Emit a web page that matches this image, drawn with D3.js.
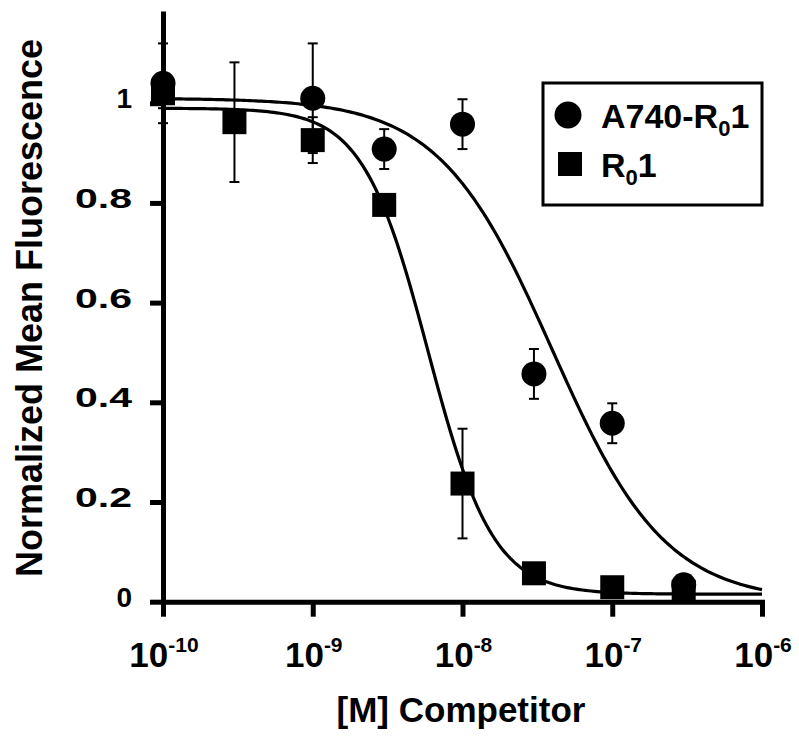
<!DOCTYPE html>
<html>
<head>
<meta charset="utf-8">
<script src="https://cdn.jsdelivr.net/npm/d3@7"></script>
<style>
  body { margin: 0; background: #fff; }
  text { font-family: "Liberation Sans", Arial, sans-serif; font-weight: bold; fill: #000; }
</style>
</head>
<body>
<script>
// Data

var w = 799;
var h = 740;

var concentrations = [1e-10, 3e-10, 1e-9, 3e-9, 1e-8, 3e-8, 1e-7, 3e-7];

// A740-R01 (circles), no point read at 3e-10
var a740X = [1e-10, 1e-9, 3e-9, 1e-8, 3e-8, 1e-7, 3e-7];
var a740Y = [1.04, 1.01, 0.908, 0.958, 0.457, 0.358, 0.034];
var a740Err = [0.08, 0.11, 0.04, 0.05, 0.05, 0.04, 0];

// R01 (squares)
var r01X = [1e-10, 3e-10, 1e-9, 3e-9, 1e-8, 3e-8, 1e-7, 3e-7];
var r01Y = [1.02, 0.962, 0.926, 0.796, 0.237, 0.057, 0.029, 0.02];
var r01Err = [0.03, 0.12, 0.046, 0.02, 0.11, 0, 0, 0];

// fitted curves: top, bottom, log10 IC50, hill slope
var a740Fit = [1.01, 0, -7.40, 1.15];
var r01Fit = [0.99, 0.015, -8.23, 2.0];

var xTicks = [1e-10, 1e-9, 1e-8, 1e-7, 1e-6];
var xTickExp = ["-10", "-9", "-8", "-7", "-6"];
var yTicks = [0, 0.2, 0.4, 0.6, 0.8, 1];
var yTickLabels = ["0", "0.2", "0.4", "0.6", "0.8", "1"];

/*
-----SVG-----
*/
var svg = d3.select("body")
  .append("svg")
  .attr("width", w)
  .attr("height", h);

var x = d3.scaleLog()
  .domain([1e-10, 1e-6])
  .range([163, 762]);

var y = d3.scaleLinear()
  .domain([0, 1.18])
  .range([601.7, 13.5]);

/*
----Axes----
*/
var yAxis = svg.append("g")
  .attr("transform", "translate(163,0)")
  .call(d3.axisLeft(y).tickValues(yTicks).tickSize(13).tickSizeOuter(0).tickFormat(""));

var xAxis = svg.append("g")
  .attr("transform", "translate(0,601.7)")
  .call(d3.axisBottom(x).tickValues(xTicks).tickSize(15).tickSizeOuter(0).tickFormat(""));

svg.selectAll(".domain")
  .attr("stroke", "#000")
  .attr("stroke-width", 5)
  .attr("stroke-linecap", "square");

svg.selectAll(".tick line")
  .attr("stroke", "#000")
  .attr("stroke-width", 5);

// y tick labels (the original ones are drawn wide)
svg.selectAll(".ylab")
  .data(yTicks)
  .enter()
  .append("text")
  .attr("class", "ylab")
  .attr("x", 132)
  .attr("y", function(d) { return y(d) + 5; })
  .attr("text-anchor", "end")
  .style("font-size", "28px")
  .each(function(d, i) {
    var t = d3.select(this).text(yTickLabels[i]);
    if (yTickLabels[i].length > 1) {
      t.attr("textLength", 57).attr("lengthAdjust", "spacingAndGlyphs");
    }
  });

// x tick labels 10^n
var xlab = svg.selectAll(".xlab")
  .data(xTicks)
  .enter()
  .append("text")
  .attr("class", "xlab")
  .attr("x", function(d) { return x(d) + 1; })
  .attr("y", 667)
  .attr("text-anchor", "middle")
  .style("font-size", "35px");

xlab.append("tspan").text("10");
xlab.append("tspan")
  .attr("dy", -15)
  .style("font-size", "21px")
  .text(function(d, i) { return xTickExp[i]; });

// axis titles
svg.append("text")
  .attr("x", 461)
  .attr("y", 722)
  .attr("text-anchor", "middle")
  .style("font-size", "35px")
  .text("[M] Competitor");

svg.append("text")
  .attr("transform", "translate(42,308) rotate(-90)")
  .attr("text-anchor", "middle")
  .style("font-size", "36px")
  .text("Normalized Mean Fluorescence");

/*
----Curves----
*/
function hill(p, c) {
  return p[1] + (p[0] - p[1]) / (1 + Math.pow(10, p[3] * (Math.log10(c) - p[2])));
}

var curveX = d3.range(0, 201).map(function(i) { return Math.pow(10, -10 + i * 4 / 200); });

var line = d3.line()
  .x(function(d) { return x(d); });

[a740Fit, r01Fit].forEach(function(p) {
  svg.append("path")
    .datum(curveX)
    .attr("fill", "none")
    .attr("stroke", "#000")
    .attr("stroke-width", 3.2)
    .attr("d", line.y(function(d) { return y(hill(p, d)); }));
});

/*
----Error bars----
*/
function errorBars(xs, ys, es) {
  var g = svg.append("g").attr("stroke", "#000").attr("stroke-width", 2);
  xs.forEach(function(c, i) {
    if (!es[i]) return;
    var cx = x(c);
    g.append("line")
      .attr("x1", cx).attr("x2", cx)
      .attr("y1", y(ys[i] + es[i])).attr("y2", y(ys[i] - es[i]));
    [ys[i] + es[i], ys[i] - es[i]].forEach(function(v) {
      g.append("line")
        .attr("x1", cx - 5).attr("x2", cx + 5)
        .attr("y1", y(v)).attr("y2", y(v));
    });
  });
}

errorBars(a740X, a740Y, a740Err);
errorBars(r01X, r01Y, r01Err);

/*
----Markers----
*/
svg.selectAll(".circ")
  .data(a740X)
  .enter()
  .append("circle")
  .attr("class", "circ")
  .attr("cx", function(d) { return x(d); })
  .attr("cy", function(d, i) { return y(a740Y[i]); })
  .attr("r", 12.5)
  .attr("fill", "#000");

svg.selectAll(".sq")
  .data(r01X)
  .enter()
  .append("rect")
  .attr("class", "sq")
  .attr("x", function(d) { return x(d) - 12; })
  .attr("y", function(d, i) { return y(r01Y[i]) - 12; })
  .attr("width", 24)
  .attr("height", 24)
  .attr("fill", "#000");

/*
----Legend----
*/
var legend = svg.append("g");

legend.append("rect")
  .attr("x", 543)
  .attr("y", 83)
  .attr("width", 219)
  .attr("height", 122)
  .attr("fill", "#fff")
  .attr("stroke", "#000")
  .attr("stroke-width", 3);

legend.append("circle")
  .attr("cx", 568)
  .attr("cy", 115)
  .attr("r", 13.5)
  .attr("fill", "#000");

legend.append("rect")
  .attr("x", 558)
  .attr("y", 152)
  .attr("width", 24)
  .attr("height", 24)
  .attr("fill", "#000");

var names = [["A740-R", "0", "1"], ["R", "0", "1"]];
var baselines = [128, 177];

names.forEach(function(n, i) {
  var t = legend.append("text")
    .attr("x", 601)
    .attr("y", baselines[i])
    .style("font-size", "34px");
  t.append("tspan").text(n[0]);
  t.append("tspan").attr("dy", 8).style("font-size", "22px").text(n[1]);
  t.append("tspan").attr("dy", -8).text(n[2]);
});
</script>
</body>
</html>
